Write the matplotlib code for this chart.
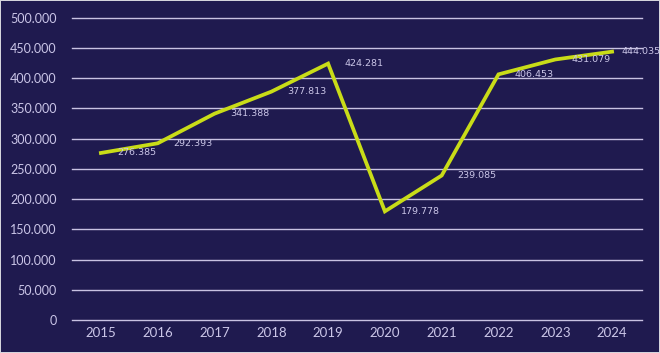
import numpy as np
import matplotlib.pyplot as plt
from matplotlib.ticker import FuncFormatter

years = ["2015", "2016", "2017", "2018", "2019", "2020", "2021", "2022", "2023", "2024"]
values = [276385, 292393, 341388, 377813, 424281, 179778, 239085, 406453, 431079, 444035]
value_labels = ["276.385", "292.393", "341.388", "377.813", "424.281",
                "179.778", "239.085", "406.453", "431.079", "444.035"]
yticks = np.arange(0, 500001, 50000)

bg = "#1f1a4f"
line_col = "#c9dc18"
text_col = "#cbc6e8"
grid_col = "#c8c2e2"

plt.rcParams['font.family'] = ['Lato', 'DejaVu Sans']

fig = plt.figure(figsize=(6.6, 3.53), dpi=100, facecolor=bg)
fig.patch.set_edgecolor("#d4d4dc")
fig.patch.set_linewidth(1.2)
ax = fig.add_axes([0.109, 0.0935, 0.864, 0.856], facecolor=bg)

x = np.arange(len(years))
ax.plot(x, values, color=line_col, lw=2.7, solid_joinstyle="miter", zorder=3)

# value labels, right of each point (last one pulled in a bit)
for i, (v, lab) in enumerate(zip(values, value_labels)):
    dx = 9 if i == len(values) - 1 else 16
    ax.annotate(lab, (x[i], v), xytext=(dx * 0.72, 0), textcoords="offset points",
                ha="left", va="center", color=text_col, fontsize=6.8,
                family="DejaVu Sans", zorder=4)

ax.set_xlim(-0.51, len(years) - 0.47)
ax.set_ylim(0, 500000)
ax.set_yticks(yticks)
ax.yaxis.set_major_formatter(FuncFormatter(lambda v, p: f"{int(v):,}".replace(",", ".")))
ax.set_xticks(x)
ax.set_xticklabels(years)
ax.grid(axis="y", color=grid_col, lw=1.0, clip_on=False)
ax.set_axisbelow(True)
for s in ax.spines.values():
    s.set_visible(False)
ax.tick_params(length=0, colors=text_col, labelsize=9.5)
ax.tick_params(axis="y", pad=11, labelsize=9)
ax.tick_params(axis="x", pad=5)

fig.savefig("out.png", dpi=100, facecolor=bg, edgecolor=fig.patch.get_edgecolor())
